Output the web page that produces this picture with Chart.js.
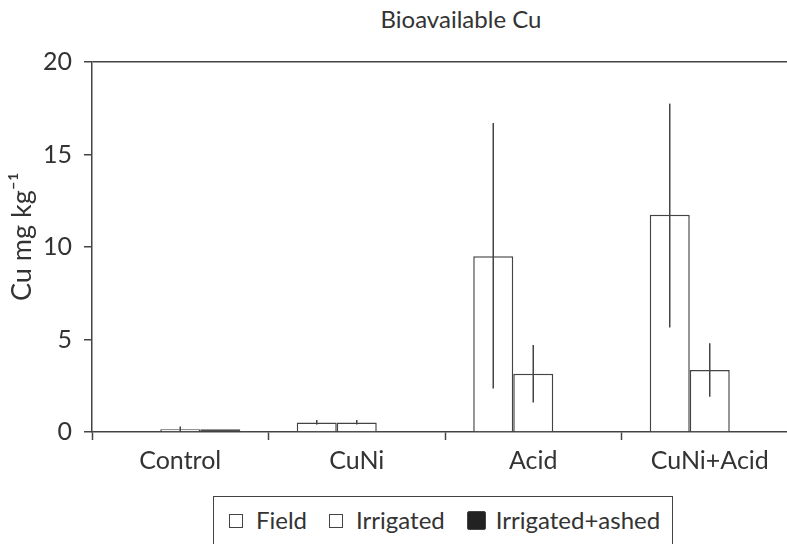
<!DOCTYPE html>
<html>
<head>
<meta charset="utf-8">
<title>Bioavailable Cu</title>
<script src="https://cdn.jsdelivr.net/npm/chart.js@4.4.1/dist/chart.umd.min.js"></script>
<style>
  html, body { margin: 0; padding: 0; background: #fff; overflow: hidden; }
  body { width: 787px; height: 544px; position: relative; font-family: Lato, "Open Sans", sans-serif; color: #333; }
  #wrap { position: absolute; left: 0; top: 0; width: 800px; height: 490px; }
  #titre { position: absolute; top: 4px; left: 361px; width: 200px; text-align: center; font-size: 24px; white-space: nowrap; }
  #legende { position: absolute; left: 213px; top: 496px; height: 60px; border: 1.5px solid #444; border-bottom: none;
             padding: 8px 12px 0 15px; font-size: 24px; white-space: nowrap; }
  #legende span.item { margin-right: 22px; }
  #legende span.item:last-child { margin-right: 0; }
  #legende span.boite { display: inline-block; width: 12px; height: 12px; border: 1px solid #444; margin-right: 13px; vertical-align: 1px; }
</style>
</head>
<body>
<div id="titre">Bioavailable Cu</div>
<div id="wrap"><canvas id="graphique"></canvas></div>
<div id="legende"></div>

<script>
// --- DONNÉES ---
const categories = ['Control', 'CuNi', 'Acid', 'CuNi+Acid'];
const series = ['Field', 'Irrigated', 'Irrigated+ashed'];

const fieldMoy = [null, 0.52, 9.5, 11.75];
const fieldBas = [null, 0.4, 2.35, 5.65];
const fieldHaut = [null, 0.65, 16.7, 17.75];

const irrigMoy = [0.15, 0.52, 3.15, 3.35];
const irrigBas = [0, 0.4, 1.6, 1.9];
const irrigHaut = [0.3, 0.65, 4.7, 4.8];

const ashedMoy = [0.15, null, null, null];

const yTicks = [0, 5, 10, 15, 20];

const TRAIT = '#444';
const TEXTE = '#333';

// --- BARRES D'ERREUR (sans chapeau) ---
const barresErreur = {
    id: 'barresErreur',
    afterDatasetsDraw(chart) {
        const ctx = chart.ctx;
        const y = chart.scales.y;
        chart.data.datasets.forEach((ds, i) => {
            if (!ds.errBas) return;
            const meta = chart.getDatasetMeta(i);
            meta.data.forEach((bar, j) => {
                if (ds.errBas[j] == null) return;
                ctx.save();
                ctx.strokeStyle = TRAIT;
                ctx.lineWidth = 1.5;
                ctx.beginPath();
                ctx.moveTo(bar.x, y.getPixelForValue(ds.errBas[j]));
                ctx.lineTo(bar.x, y.getPixelForValue(ds.errHaut[j]));
                ctx.stroke();
                ctx.restore();
            });
        });
    }
};

const ctx = document.getElementById('graphique');
new Chart(ctx, {
    type: 'bar',
    data: {
        labels: categories,
        datasets: [
            { label: series[0], data: fieldMoy, errBas: fieldBas, errHaut: fieldHaut,
              backgroundColor: '#fff', borderColor: TRAIT, borderWidth: 1.5 },
            { label: series[1], data: irrigMoy, errBas: irrigBas, errHaut: irrigHaut,
              backgroundColor: '#fff', borderColor: TRAIT, borderWidth: 1.5 },
            { label: series[2], data: ashedMoy,
              backgroundColor: '#222', borderColor: TRAIT, borderWidth: 1.5 }
        ]
    },
    options: {
        responsive: true,
        maintainAspectRatio: false,
        animation: false,
        devicePixelRatio: 1,
        layout: { padding: { top: 62, right: 2, bottom: 8, left: 0 } },
        datasets: { bar: { categoryPercentage: 0.68, barPercentage: 1.0, borderSkipped: 'start' } },
        plugins: { legend: { display: false }, title: { display: false }, tooltip: { enabled: false } },
        scales: {
            x: {
                offset: true,
                grid: { offset: true, drawOnChartArea: false, tickLength: 8, tickColor: TRAIT, tickWidth: 1.5 },
                border: { color: TRAIT, width: 1.5 },
                ticks: { color: TEXTE, padding: 6, font: { family: 'Lato', size: 25 } }
            },
            y: {
                min: 0, max: 20,
                afterBuildTicks: (s) => { s.ticks = yTicks.map(v => ({ value: v })); },
                afterFit: (s) => { s.width = 92; },
                grid: {
                    drawOnChartArea: true, tickLength: 8, tickWidth: 1.5, tickColor: TRAIT, lineWidth: 1.5,
                    color: (c) => (c.tick && c.tick.value === 20 ? TRAIT : 'rgba(0,0,0,0)')
                },
                border: { color: TRAIT, width: 1.5 },
                ticks: { color: TEXTE, padding: 12, font: { family: 'Lato', size: 25 } },
                title: { display: true, text: '   Cu mg kg⁻¹', color: TEXTE, padding: { top: 6, bottom: 0 },
                         font: { family: 'Lato', size: 27 } }
            }
        }
    },
    plugins: [barresErreur]
});

// --- LÉGENDE ---
const legende = document.getElementById('legende');
const remplissages = ['#fff', '#fff', '#222'];
series.forEach((nom, i) => {
    const item = document.createElement('span');
    item.className = 'item';
    const boite = document.createElement('span');
    boite.className = 'boite';
    boite.style.background = remplissages[i];
    if (i === 2) { boite.style.width = '17px'; boite.style.height = '17px'; boite.style.borderRadius = '2px'; boite.style.verticalAlign = '-1px'; boite.style.marginRight = '10px'; }
    item.appendChild(boite);
    item.appendChild(document.createTextNode(nom));
    legende.appendChild(item);
});
</script>
</body>
</html>
